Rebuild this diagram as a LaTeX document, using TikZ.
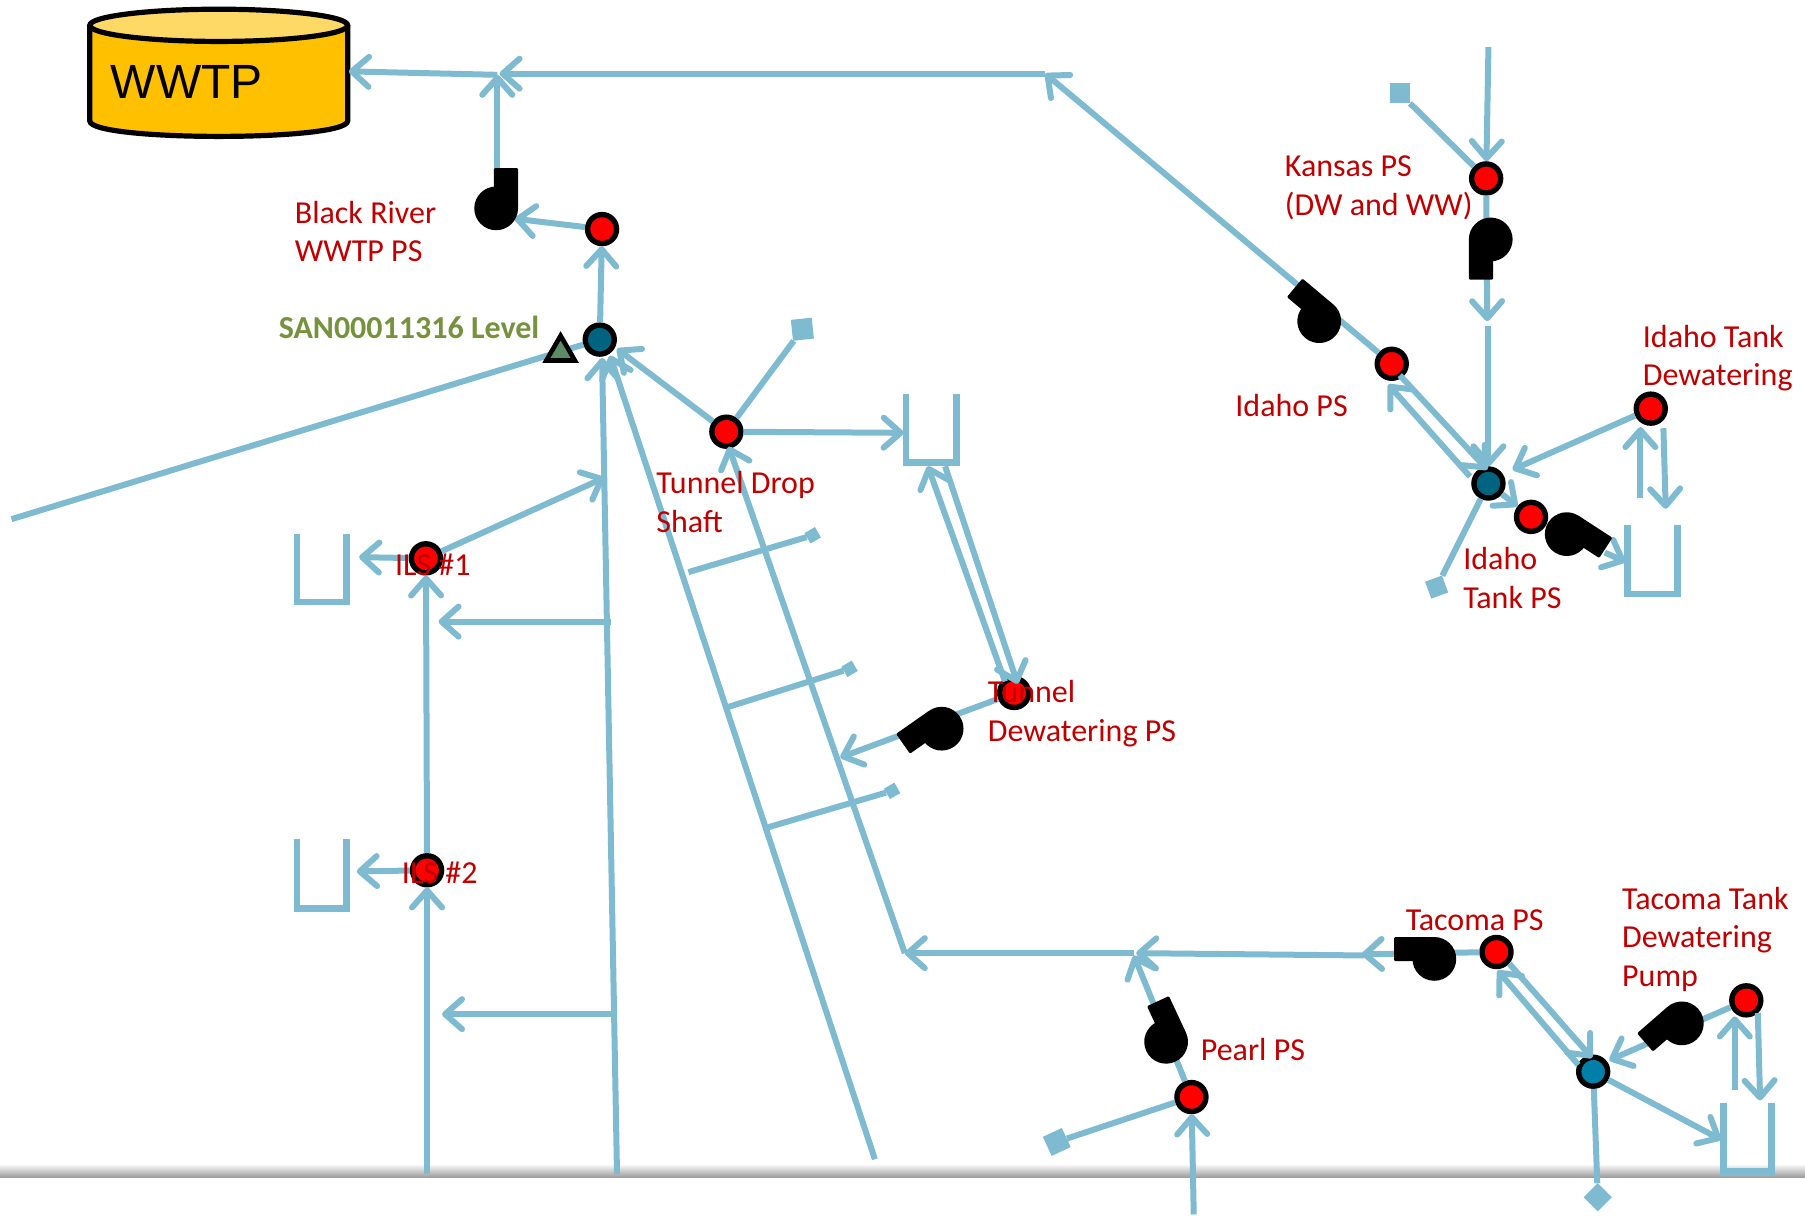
\documentclass[tikz,border=0pt]{standalone}
\usepackage{fontspec}
\setmainfont{Carlito}
\newfontfamily\wwtpfont{Liberation Sans}
\usetikzlibrary{arrows.meta,shapes.geometric}
\definecolor{pipec}{HTML}{7FBBD0}
\definecolor{labc}{HTML}{C00000}
\definecolor{greenc}{HTML}{76923C}
\tikzset{
 x=1.15115pt,y=-1.15115pt,
 pipe/.style={draw=pipec,line width=6pt},
 flow/.style={pipe,-{Straight Barb[length=17pt,width=30pt,line width=6pt,round]}},
 tank/.style={draw=pipec,line width=6.8pt},
 pt/.style={circle,draw=black,line width=5.4pt,minimum size=29pt,inner sep=0pt},
 redpt/.style={pt,fill=red},
 sq/.style={fill=pipec,inner sep=0pt,minimum size=#1},
 lab/.style={text=labc,font=\fontsize{32}{38.5}\selectfont,align=left,anchor=west,inner sep=0pt},
 pump/.pic={\fill[black,rounded corners=1.2pt] (-19,0)--(-19,35)--(2,35)--(2,14)--(10,0)--cycle; \fill[black] (0,0) circle[radius=19];}
}
\begin{document}
\begin{tikzpicture}
\useasboundingbox (0,0) rectangle (1568,1055.5);
% floor band
\shade[top color=white,bottom color=black!38,draw=none] (0,1011) rectangle (1568,1022.5);
% cylinder
\draw[fill={rgb,255:red,255;green,192;blue,0},draw=black,line width=5.2pt] (78,22) -- (78,105) .. controls (78,123) and (302,123) .. (302,105) -- (302,22);
\draw[fill={rgb,255:red,255;green,217;blue,102},draw=black,line width=5.2pt] (190,22) ellipse [x radius=112,y radius=14];
\node[font=\wwtpfont\fontsize{48}{48}\selectfont,inner sep=0pt,anchor=west] (wwtp) at (96,71) {WWTP};
% nodes
\node[redpt] (black) at (523,199) {};
\node[pt,fill={rgb,255:red,0;green,99;blue,128}] (san) at (521,295) {};
\node[redpt] (drop) at (631,375) {};
\node[redpt] (ils1) at (370,485) {};
\node[redpt] (ils2) at (371,756) {};
\node[redpt] (tundew) at (881,602) {};
\node[redpt] (kansas) at (1291,155) {};
\node[redpt] (idaho) at (1209,316) {};
\node[pt,fill={rgb,255:red,0;green,99;blue,128}] (idblue) at (1293,420) {};
\node[redpt] (idtank) at (1330,449) {};
\node[redpt] (iddew) at (1434,355) {};
\node[redpt] (tacoma) at (1300,827) {};
\node[redpt] (tacdew) at (1517,869) {};
\node[pt,fill={rgb,255:red,0;green,128;blue,168}] (tacblue) at (1384,931) {};
\node[redpt] (pearl) at (1035,953) {};
% squares
\node[sq=21pt,rotate=6] (sq1) at (697,286) {};
\node[sq=20pt,rotate=0] (sq2) at (1216,81) {};
\node[sq=18pt,rotate=20] (sq3) at (1248,510) {};
\node[sq=21pt,rotate=25] (sq4) at (918,992) {};
\node[sq=20pt,rotate=45] (sq5) at (1388,1040) {};
\node[sq=12pt,rotate=30] (sq6) at (706,465) {};
\node[sq=12pt,rotate=30] (sq7) at (738,581) {};
\node[sq=12pt,rotate=30] (sq8) at (775,687) {};
% free ends
\coordinate (j1) at (432,65);
\coordinate (j1b) at (434,64);
\coordinate (wwin) at (303,62);
\coordinate (j2) at (908,64);
\coordinate (pb) at (432,150);
\coordinate (pbin) at (447,190);
\coordinate (far) at (10,451);
\coordinate (base1) at (536,1020);
\coordinate (base2) at (760,1007);
\coordinate (sanb1) at (523,311);
\coordinate (sanb2) at (530,309);
\coordinate (sanb3) at (536,303);
\coordinate (tub) at (786,828);
\coordinate (dropb) at (633,388);
\coordinate (t1in) at (785,376);
\coordinate (t1a) at (806,405);
\coordinate (t1b) at (821,405);
\coordinate (tda) at (873,592);
\coordinate (tdb) at (884,594);
\coordinate (tdout) at (730,658);
\coordinate (i1t) at (525,415);
\coordinate (i1l) at (312,484);
\coordinate (i2l) at (310,757);
\coordinate (m1a) at (531,540);
\coordinate (m1b) at (381,540);
\coordinate (m2a) at (531,881);
\coordinate (m2b) at (384,881);
\coordinate (ilsb) at (371,1020);
\coordinate (b1) at (598,497);
\coordinate (b2) at (633,614);
\coordinate (b3) at (666,719);
\coordinate (j3) at (985,828);
\coordinate (j3b) at (987,828);
\coordinate (tacl) at (1183,829);
\coordinate (tacl2) at (1185,830);
\coordinate (j3c) at (985,830);
\coordinate (pearlb) at (1037,1055);
\coordinate (top) at (1293,41);
\coordinate (kd) at (1292,279);
\coordinate (kd2) at (1293,283);
\coordinate (ida) at (1216,326);
\coordinate (idb) at (1292,408);
\coordinate (idc) at (1277,414);
\coordinate (idd) at (1206,334);
\coordinate (ide) at (1314,408);
\coordinate (tk1) at (1425,433);
\coordinate (tk1t) at (1425,371);
\coordinate (tk2) at (1445,372);
\coordinate (tk2t) at (1447,442);
\coordinate (tk3a) at (1394,480);
\coordinate (tk3t) at (1412,488);
\coordinate (ta) at (1311,837);
\coordinate (tb) at (1383,919);
\coordinate (tc) at (1371,925);
\coordinate (td) at (1301,843);
\coordinate (te) at (1398,921);
\coordinate (tf) at (1507,947);
\coordinate (tft) at (1507,883);
\coordinate (tg) at (1527,880);
\coordinate (tgt) at (1529,956);
\coordinate (th) at (1495,990);
% tanks
\draw[tank] (787,342) -- (787,402) -- (831,402) -- (831,342);
\draw[tank] (258,464) -- (258,523) -- (301,523) -- (301,464);
\draw[tank] (258,729) -- (258,789) -- (301,789) -- (301,729);
\draw[tank] (1414,456) -- (1414,516) -- (1457,516) -- (1457,456);
\draw[tank] (1497,958) -- (1497,1018) -- (1539,1018) -- (1539,958);
% pipes
\draw[flow] (j1) -- (wwin);
\draw[flow] (j2) -- (j1b);
\draw[flow] (pb) -- (j1);
\draw[flow] (black) -- (pbin);
\draw[flow] (san) -- (black);
\draw[pipe] (far) -- (san);
\draw[flow] (base1) -- (sanb1);
\draw[flow] (base2) -- (sanb2);
\draw[flow] (drop) -- (sanb3);
\draw[pipe] (drop) -- (sq1);
\draw[flow] (drop) -- (t1in);
\draw[flow] (tub) -- (dropb);
\draw[flow] (tda) -- (t1a);
\draw[flow] (t1b) -- (tdb);
\draw[flow] (tundew) -- (tdout);
\draw[flow] (ils1) -- (i1t);
\draw[flow] (ils1) -- (i1l);
\draw[flow] (ils2) -- (i2l);
\draw[flow] (ils2) -- (ils1);
\draw[flow] (ilsb) -- (ils2);
\draw[flow] (m1a) -- (m1b);
\draw[flow] (m2a) -- (m2b);
\draw[pipe] (b1) -- (sq6);
\draw[pipe] (b2) -- (sq7);
\draw[pipe] (b3) -- (sq8);
\draw[flow] (j3) -- (tub);
\draw[flow] (tacl2) -- (j3b);
\draw[flow] (tacoma) -- (tacl);
\draw[flow] (pearl) -- (j3c);
\draw[pipe] (pearl) -- (sq4);
\draw[flow] (pearlb) -- (pearl);
\draw[flow] (idaho) -- (j2);
\draw[flow] (top) -- (kansas);
\draw[pipe] (sq2) -- (kansas);
\draw[flow] (kansas) -- (kd);
\draw[flow] (kd2) -- (idblue);
\draw[flow] (ida) -- (idb);
\draw[flow] (idc) -- (idd);
\draw[flow] (iddew) -- (ide);
\draw[flow] (tk1) -- (tk1t);
\draw[flow] (tk2) -- (tk2t);
\draw[flow] (idblue) -- (idtank);
\draw[flow] (tk3a) -- (tk3t);
\draw[pipe] (idblue) -- (sq3);
\draw[flow] (ta) -- (tb);
\draw[flow] (tc) -- (td);
\draw[flow] (tacdew) -- (te);
\draw[flow] (tf) -- (tft);
\draw[flow] (tg) -- (tgt);
\draw[flow] (tacblue) -- (th);
\draw[pipe] (tacblue) -- (sq5);
% pumps
\pic[rotate=180] at (431,181) {pump};
\pic at (1295,208) {pump};
\pic[rotate=230] at (1146,279) {pump};
\pic[rotate=57,xscale=-1] at (1361,464) {pump};
\pic[rotate=305] at (818,633) {pump};
\pic[rotate=-90] at (1246,833) {pump};
\pic[rotate=205] at (1013,905) {pump};
\pic[rotate=311] at (1461,889) {pump};
% level triangle
\node[regular polygon,regular polygon sides=3,draw=black,line width=4.6pt,fill={rgb,255:red,91;green,140;blue,100},minimum size=33pt,inner sep=0pt] (lev) at (487,306) {};
% labels
\node[lab] (l1) at (256,201) {Black River\\WWTP PS};
\node[lab,text=greenc,font=\bfseries\fontsize{32}{38.5}\selectfont] (l2) at (242,284) {SAN00011316 Level};
\node[lab] (l3) at (570,436) {Tunnel Drop\\Shaft};
\node[lab] (l4) at (343,491) {ILS \#1};
\node[lab] (l5) at (349,758) {ILS \#2};
\node[lab] (l6) at (858,620) {Tunnel\\Dewatering PS};
\node[lab] (l7) at (1116,163) {Kansas PS\\(DW and WW)};
\node[lab] (l8) at (1073,352) {Idaho PS};
\node[lab] (l9) at (1427,311) {Idaho Tank\\Dewatering};
\node[lab] (l10) at (1271,502) {Idaho\\Tank PS};
\node[lab] (l11) at (1221,799) {Tacoma PS};
\node[lab] (l12) at (1409,816) {Tacoma Tank\\Dewatering\\Pump};
\node[lab] (l13) at (1043,912) {Pearl PS};
\end{tikzpicture}
\end{document}
